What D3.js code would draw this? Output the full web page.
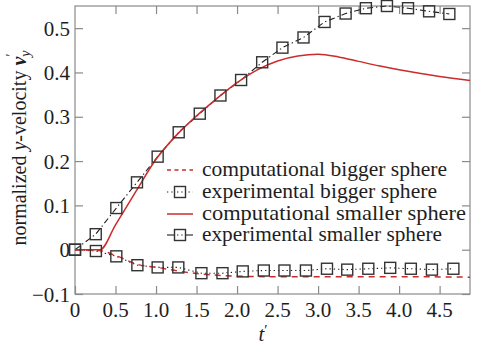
<!DOCTYPE html>
<html>
<head>
<meta charset="utf-8">
<script src="https://cdn.jsdelivr.net/npm/d3@7/dist/d3.min.js"></script>
</head>
<body style="margin:0">
<svg id="chart" width="480" height="344" style="display:block;background:#fff"></svg>
<script>
// Normalized y-velocity of two spheres versus dimensionless time t'.

// Experimental, smaller sphere
const tSmallExp = [0, 0.256, 0.51, 0.765, 1.02, 1.28, 1.54, 1.795, 2.05, 2.31, 2.56, 2.82, 3.08, 3.34, 3.59, 3.85, 4.11, 4.37, 4.62];
const vSmallExp = [0, 0.035, 0.094, 0.152, 0.21, 0.265, 0.307, 0.348, 0.383, 0.423, 0.456, 0.479, 0.514, 0.533, 0.545, 0.55, 0.545, 0.538, 0.532];

// Experimental, bigger sphere
const tBigExp = [0, 0.258, 0.51, 0.77, 1.02, 1.275, 1.56, 1.82, 2.07, 2.33, 2.585, 2.85, 3.11, 3.36, 3.62, 3.89, 4.145, 4.405, 4.67];
const vBigExp = [0, -0.003, -0.015, -0.035, -0.04, -0.04, -0.053, -0.053, -0.049, -0.047, -0.047, -0.047, -0.043, -0.045, -0.043, -0.041, -0.043, -0.045, -0.043];

// Computational, smaller sphere
const tSmallComp = [0, 0.31, 0.5, 0.75, 1.0, 1.25, 1.5, 1.75, 2.0, 2.25, 2.5, 2.75, 3.0, 3.25, 3.5, 3.75, 4.0, 4.25, 4.5, 4.875];
const vSmallComp = [0, 0, 0.056, 0.131, 0.204, 0.258, 0.302, 0.341, 0.377, 0.406, 0.426, 0.437, 0.441, 0.435, 0.425, 0.415, 0.406, 0.398, 0.391, 0.382];

// Computational, bigger sphere
const tBigComp = [0, 0.3, 0.5, 0.77, 1.05, 1.3, 1.58, 1.8, 2.05, 2.5, 3.0, 4.0, 4.875];
const vBigComp = [0, -0.002, -0.013, -0.033, -0.041, -0.049, -0.055, -0.058, -0.060, -0.061, -0.061, -0.061, -0.062];

const xTicks = [0, 0.5, 1.0, 1.5, 2.0, 2.5, 3.0, 3.5, 4.0, 4.5];
const xTickLabels = ["0", "0.5", "1.0", "1.5", "2.0", "2.5", "3.0", "3.5", "4.0", "4.5"];
const yTicks = [-0.1, 0, 0.1, 0.2, 0.3, 0.4, 0.5];
const yTickLabels = ["\u22120.1", "0", "0.1", "0.2", "0.3", "0.4", "0.5"];

const legendLabels = [
  "computational bigger sphere",
  "experimental bigger sphere",
  "computational smaller sphere",
  "experimental smaller sphere"
];
// Set width of each legend label, px
const legendWidths = [245, 235, 264, 240];

const RED = "#cc2b2b";
const INK = "#1e1e1e";
const FRAME = "#8a8a8a";
const FONT = "Liberation Serif";

document.fonts.check('21px "Liberation Serif"');

const svg = d3.select("#chart");

// Text helper: every text node carries its own font settings
function addText(parent, size) {
  return parent.append("text").attr("font-family", FONT).attr("font-size", size).attr("fill", INK);
}

const plotL = 75, plotR = 470, plotT = 6, plotB = 294;
const x = d3.scaleLinear().domain([0, 4.875]).range([plotL, plotR]);
const y = d3.scaleLinear().domain([-0.1, 0.55]).range([plotB, plotT]);

// Tick labels
xTicks.forEach((d, i) => {
  addText(svg, 21).attr("x", x(d)).attr("y", 316.5).attr("text-anchor", "middle").text(xTickLabels[i]);
});
yTicks.forEach((d, i) => {
  addText(svg, 21).attr("x", plotL - 5).attr("y", y(d) + 7.5).attr("text-anchor", "end").text(yTickLabels[i]);
});

// Legend labels
const legendRows = [176, 198, 220, 241];
legendLabels.forEach((lab, i) => {
  addText(svg, 22).attr("x", 202).attr("y", legendRows[i])
    .attr("textLength", legendWidths[i]).attr("lengthAdjust", "spacingAndGlyphs")
    .text(lab);
});

// Axis titles
const xt = addText(svg, 21).attr("x", 263).attr("y", 341).attr("text-anchor", "middle");
xt.append("tspan").attr("font-style", "italic").text("t");
xt.append("tspan").attr("font-size", 15).attr("dy", -6).text("\u2032");

const yt = addText(svg, 20)
  .attr("transform", "translate(26,148) rotate(-90)")
  .attr("text-anchor", "middle");
yt.append("tspan").text("normalized ");
yt.append("tspan").attr("font-style", "italic").text("y");
yt.append("tspan").text("-velocity ");
yt.append("tspan").attr("font-style", "italic").attr("font-weight", "bold").text("v");
yt.append("tspan").attr("font-style", "italic").attr("font-size", 14).attr("dy", 4).text("y");
yt.append("tspan").attr("font-size", 14).attr("dx", -6).attr("dy", -14).text("\u2032");

svg.selectAll("text").each(function () { this.getComputedTextLength(); });

// Frame and inward ticks on all four sides
const tickLen = 8;
const axisG = svg.append("g");
axisG.append("rect")
  .attr("x", plotL).attr("y", plotT)
  .attr("width", plotR - plotL).attr("height", plotB - plotT)
  .attr("fill", "none").attr("stroke", FRAME).attr("stroke-width", 1.2);

function styleAxis(g) {
  g.select(".domain").remove();
  g.selectAll(".tick line").attr("stroke", FRAME).attr("stroke-width", 1.2);
  g.selectAll(".tick text").remove();
}
axisG.append("g").attr("transform", `translate(0,${plotB})`)
  .call(d3.axisBottom(x).tickValues(xTicks).tickSizeInner(-tickLen).tickSizeOuter(0)).call(styleAxis);
axisG.append("g").attr("transform", `translate(0,${plotT})`)
  .call(d3.axisTop(x).tickValues(xTicks.filter(d => d > 0)).tickSizeInner(-tickLen).tickSizeOuter(0)).call(styleAxis);
axisG.append("g").attr("transform", `translate(${plotL},0)`)
  .call(d3.axisLeft(y).tickValues(yTicks).tickSizeInner(-tickLen).tickSizeOuter(0)).call(styleAxis);
axisG.append("g").attr("transform", `translate(${plotR},0)`)
  .call(d3.axisRight(y).tickValues(yTicks).tickSizeInner(-tickLen).tickSizeOuter(0)).call(styleAxis);

// Series
const line = d3.line().x(d => x(d[0])).y(d => y(d[1]));
const smooth = d3.line().x(d => x(d[0])).y(d => y(d[1])).curve(d3.curveMonotoneX);
const zip = (a, b) => a.map((v, i) => [v, b[i]]);

const plot = svg.append("g");
plot.append("path").datum(zip(tBigExp, vBigExp)).attr("d", line)
  .attr("fill", "none").attr("stroke", INK).attr("stroke-width", 1.1).attr("stroke-dasharray", "1.3,3");
plot.append("path").datum(zip(tSmallExp, vSmallExp)).attr("d", line)
  .attr("fill", "none").attr("stroke", INK).attr("stroke-width", 1.1).attr("stroke-dasharray", "6,3,1.3,3");
plot.append("path").datum(zip(tBigComp, vBigComp)).attr("d", smooth)
  .attr("fill", "none").attr("stroke", RED).attr("stroke-width", 1.5).attr("stroke-dasharray", "6,5");
plot.append("path").datum(zip(tSmallComp, vSmallComp)).attr("d", smooth)
  .attr("fill", "none").attr("stroke", RED).attr("stroke-width", 1.5);

const sq = 11;
function squares(data) {
  plot.append("g").selectAll("rect").data(data).join("rect")
    .attr("x", d => x(d[0]) - sq / 2).attr("y", d => y(d[1]) - sq / 2)
    .attr("width", sq).attr("height", sq)
    .attr("fill", "none").attr("stroke", "#333").attr("stroke-width", 1.4);
}
squares(zip(tBigExp, vBigExp));
squares(zip(tSmallExp, vSmallExp));

// Legend samples
const lg = svg.append("g");
const sx0 = 167, sx1 = 193, sxm = (sx0 + sx1) / 2;
const styles = [
  { stroke: RED, dash: "4,3.5", w: 1.5, marker: false },
  { stroke: INK, dash: "1.3,3", w: 1.1, marker: true },
  { stroke: RED, dash: null, w: 1.5, marker: false },
  { stroke: INK, dash: null, w: 1.1, marker: true }
];
styles.forEach((s, i) => {
  const cy = legendRows[i] - 6;
  lg.append("line").attr("x1", sx0).attr("x2", sx1).attr("y1", cy).attr("y2", cy)
    .attr("stroke", s.stroke).attr("stroke-width", s.w)
    .attr("stroke-dasharray", s.dash);
  if (s.marker) {
    lg.append("rect").attr("x", sxm - sq / 2).attr("y", cy - sq / 2)
      .attr("width", sq).attr("height", sq)
      .attr("fill", "#fff").attr("stroke", "#333").attr("stroke-width", 1.4);
    lg.append("line").attr("x1", sxm - 3).attr("x2", sxm + 3).attr("y1", cy).attr("y2", cy)
      .attr("stroke", INK).attr("stroke-width", 1.1).attr("stroke-dasharray", "1.3,3");
  }
});
</script>
</body>
</html>
